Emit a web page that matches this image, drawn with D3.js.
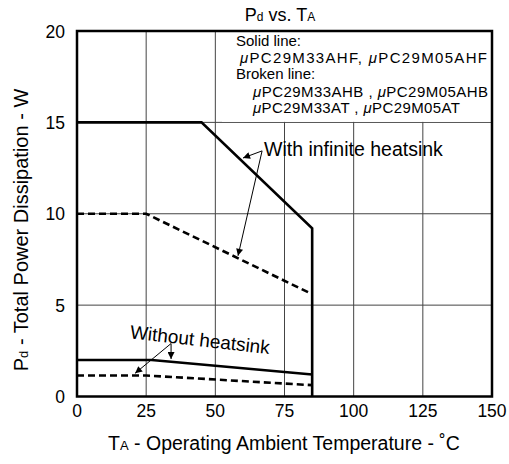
<!DOCTYPE html>
<html><head><meta charset="utf-8">
<script src="https://cdn.jsdelivr.net/npm/d3@7"></script>
<style>
html,body{margin:0;padding:0;background:#fff;}
svg{display:block;font-family:"Liberation Sans",Arial,Helvetica,sans-serif;}
</style></head>
<body>
<script>
// ---- data ----
const xTicks = [0, 25, 50, 75, 100, 125, 150];
const yTicks = [0, 5, 10, 15, 20];
// With infinite heatsink
const infSolidT = [0, 45, 85, 85];
const infSolidP = [15, 15, 9.2, 0];
const infBrokenT = [0, 25, 85];
const infBrokenP = [10, 10, 5.6];
// Without heatsink
const noSolidT = [0, 27, 85];
const noSolidP = [2, 2, 1.2];
const noBrokenT = [0, 25, 85];
const noBrokenP = [1.15, 1.15, 0.62];
const legendLines = ["Solid line:", "μPC29M33AHF, μPC29M05AHF", "Broken line:", "μPC29M33AHB , μPC29M05AHB", "μPC29M33AT , μPC29M05AT"];
// annotations (data coordinates)
const infLabel = {t: 67.6, p: 13.17, text: "With infinite heatsink"};
const infArrowFrom = {t: 66.9, p: 13.44};
const infArrowTo = [{t: 60, p: 13.05}, {t: 58.2, p: 7.7}];
const noLabel = {t: 44.2, p: 2.75, text: "Without heatsink"};
const noArrowFrom = {t: 34, p: 2.9};
const noArrowTo = [{t: 34, p: 2.05}, {t: 21, p: 1.27}];

const W = 509, H = 464;
const x = d3.scaleLinear().domain([0, 150]).range([77, 492]);
const y = d3.scaleLinear().domain([0, 20]).range([396.5, 31]);

const svg = d3.select("body").append("svg").attr("width", W).attr("height", H);

// grid
svg.append("g").selectAll("line").data(xTicks.slice(1)).join("line")
  .attr("x1", d => x(d)).attr("x2", d => x(d)).attr("y1", y(0)).attr("y2", y(20))
  .attr("stroke", "#444").attr("stroke-width", 1);
svg.append("g").selectAll("line").data(yTicks.slice(1)).join("line")
  .attr("x1", x(0)).attr("x2", x(150)).attr("y1", d => y(d)).attr("y2", d => y(d))
  .attr("stroke", "#444").attr("stroke-width", 1);

// legend box (covers grid)
svg.append("rect").attr("x", 222).attr("y", y(20)).attr("width", x(150) - 222).attr("height", y(15) - y(20) - 0.5)
  .attr("fill", "#fff");
const lg = svg.append("g").attr("font-size", 15).attr("fill", "#000");
const lgX = [236, 240, 236, 253, 253];
const lgY = [46, 63, 79, 97, 113];
const lgLen = [null, 247, null, 235, 207];
legendLines.forEach((s, i) => {
  const t = lg.append("text").attr("x", lgX[i]).attr("y", lgY[i]);
  if (lgLen[i]) t.attr("textLength", lgLen[i]).attr("lengthAdjust", "spacing");
  s.split(/(μ)/).forEach(part => {
    if (!part) return;
    const ts = t.append("tspan").text(part);
    if (part === "μ") ts.attr("font-style", "italic");
  });
});

// frame
svg.append("rect").attr("x", x(0)).attr("y", y(20)).attr("width", x(150) - x(0)).attr("height", y(0) - y(20))
  .attr("fill", "none").attr("stroke", "#000").attr("stroke-width", 2.5);

// curves
const line = d3.line().x(d => x(d[0])).y(d => y(d[1]));
function drawCurve(T, P, dashed) {
  svg.append("path").attr("d", line(T.map((t, i) => [t, P[i]])))
    .attr("fill", "none").attr("stroke", "#000").attr("stroke-width", 2.6)
    .attr("stroke-linejoin", "miter")
    .attr("stroke-dasharray", dashed ? "7,4" : null);
}
drawCurve(infSolidT, infSolidP, false);
drawCurve(infBrokenT, infBrokenP, true);
drawCurve(noSolidT, noSolidP, false);
drawCurve(noBrokenT, noBrokenP, true);

// arrows
svg.append("defs").append("marker").attr("id", "ah").attr("viewBox", "0 0 10 10")
  .attr("refX", 10).attr("refY", 5).attr("markerWidth", 9).attr("markerHeight", 7)
  .attr("markerUnits", "userSpaceOnUse").attr("orient", "auto")
  .append("path").attr("d", "M0,0 L10,5 L0,10 Z").attr("fill", "#000");
function arrows(from, tos) {
  tos.forEach(to => {
    svg.append("line").attr("x1", x(from.t)).attr("y1", y(from.p)).attr("x2", x(to.t)).attr("y2", y(to.p))
      .attr("stroke", "#000").attr("stroke-width", 1).attr("marker-end", "url(#ah)");
  });
}
arrows(infArrowFrom, infArrowTo);
arrows(noArrowFrom, noArrowTo);

svg.append("text").attr("x", x(infLabel.t)).attr("y", y(infLabel.p))
  .attr("font-size", 19.5).text(infLabel.text);
svg.append("text").attr("transform", `translate(${x(noLabel.t)},${y(noLabel.p)}) rotate(6.5)`)
  .attr("text-anchor", "middle").attr("font-size", 19).text(noLabel.text);

// tick labels
svg.append("g").selectAll("text").data(xTicks).join("text")
  .attr("x", d => x(d)).attr("y", 417).attr("text-anchor", "middle").attr("font-size", 17.5).text(d => d);
svg.append("g").selectAll("text").data(yTicks).join("text")
  .attr("x", 65).attr("y", d => y(d) + 6.5).attr("text-anchor", "end").attr("font-size", 17.5).text(d => d);

// title
const title = svg.append("text").attr("x", 280).attr("y", 21).attr("text-anchor", "middle").attr("font-size", 18);
title.append("tspan").text("P");
title.append("tspan").attr("font-size", 12).text("d");
title.append("tspan").text(" vs. T");
title.append("tspan").attr("font-size", 12).text("A");

// axis titles
const xl = svg.append("text").attr("x", 284).attr("y", 450).attr("text-anchor", "middle").attr("font-size", 19.5);
xl.append("tspan").text("T");
xl.append("tspan").attr("font-size", 13).text("A");
xl.append("tspan").text(" - Operating Ambient Temperature - ˚C");

const yl = svg.append("text").attr("transform", "translate(28,230) rotate(-90)").attr("text-anchor", "middle").attr("font-size", 20);
yl.append("tspan").text("P");
yl.append("tspan").attr("font-size", 13).text("d");
yl.append("tspan").text(" - Total Power Dissipation - W");
</script>
</body></html>
